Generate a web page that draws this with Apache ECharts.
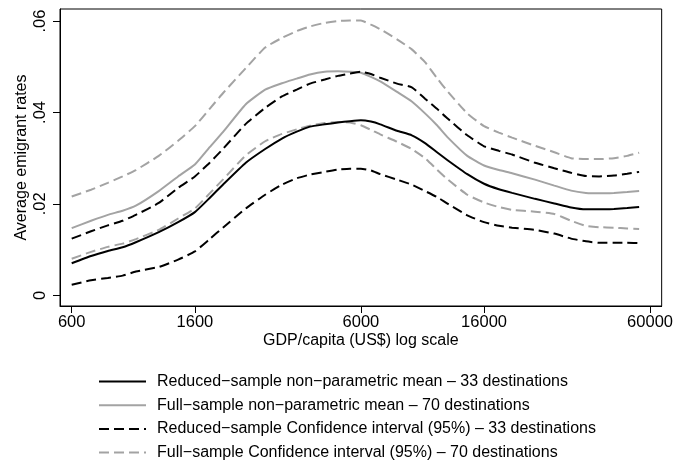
<!DOCTYPE html>
<html>
<head>
<meta charset="utf-8">
<script src="https://cdn.jsdelivr.net/npm/echarts@6/dist/echarts.min.js"></script>
<style>
  html, body { margin: 0; padding: 0; background: #fff; }
  #chart { width: 676px; height: 463px; }
</style>
</head>
<body>
<div id="chart"></div>
<script>
// GDP per capita (US$) at which each curve is evaluated
const gdp = [600, 700, 800, 900, 1000, 1200, 1400, 1600, 1800, 2000, 2400, 2800, 3200, 3600, 4000,
  4500, 5000, 5500, 6000, 6500, 7000, 8000, 9000, 10000, 11000, 12000, 14000, 16000, 18000, 20000,
  24000, 28000, 32000, 36000, 40000, 45000, 50000, 55000];

// Reduced sample (33 destinations): mean and 95% band
const reducedMean = [.0070, .0086, .0097, .0105, .0116, .0138, .0160, .0182, .0213, .0242, .0290, .0320, .0343, .0358, .0369,
  .0374, .0378, .0381, .0383, .0380, .0374, .0360, .0350, .0333, .0313, .0295, .0265, .0244, .0232, .0224,
  .0211, .0201, .0192, .0188, .0188, .0189, .0191, .0193];
const reducedUpper = [.0124, .0140, .0153, .0163, .0176, .0202, .0235, .0260, .0290, .0320, .0375, .0410, .0435, .0450, .0463,
  .0472, .0480, .0485, .0489, .0484, .0476, .0463, .0455, .0430, .0408, .0386, .0350, .0326, .0316, .0308,
  .0290, .0278, .0268, .0261, .0260, .0262, .0266, .0270];
const reducedLower = [.0023, .0033, .0038, .0043, .0052, .0062, .0078, .0096, .0123, .0148, .0190, .0220, .0242, .0256, .0264,
  .0270, .0275, .0277, .0277, .0273, .0265, .0253, .0242, .0228, .0215, .0200, .0175, .0160, .0152, .0148,
  .0143, .0135, .0124, .0118, .0115, .0115, .0115, .0114];

// Full sample (70 destinations): mean and 95% band
const fullMean = [.0147, .0163, .0176, .0185, .0196, .0228, .0260, .0286, .0324, .0357, .0418, .0450, .0464, .0474, .0483,
  .0489, .0490, .0489, .0487, .0478, .0468, .0445, .0424, .0398, .0372, .0345, .0305, .0284, .0274, .0267,
  .0253, .0240, .0229, .0224, .0223, .0224, .0226, .0228];
const fullUpper = [.0216, .0231, .0246, .0260, .0274, .0305, .0338, .0370, .0408, .0442, .0497, .0542, .0563, .0578, .0588,
  .0596, .0600, .0601, .0601, .0592, .0582, .0560, .0538, .0510, .0475, .0445, .0398, .0370, .0356, .0345,
  .0327, .0313, .0300, .0298, .0298, .0300, .0305, .0312];
const fullLower = [.0080, .0095, .0106, .0113, .0123, .0143, .0168, .0190, .0223, .0253, .0306, .0337, .0353, .0363, .0371,
  .0377, .0379, .0378, .0372, .0362, .0352, .0336, .0320, .0300, .0275, .0253, .0220, .0203, .0193, .0187,
  .0183, .0178, .0163, .0152, .0149, .0148, .0146, .0145];

// Axis ticks
const xTicks = [600, 1600, 6000, 16000, 60000];
const yTicks = [0, 0.02, 0.04, 0.06];

const names = [
  'Reduced\u2212sample non\u2212parametric mean \u2013 33 destinations',
  'Full\u2212sample non\u2212parametric mean \u2013 70 destinations',
  'Reduced\u2212sample Confidence interval (95%) \u2013 33 destinations',
  'Full\u2212sample Confidence interval (95%) \u2013 70 destinations'
];

const FONT = 'Liberation Sans, Arial, Helvetica, sans-serif';
const FS_TICK = 16.5;
const FS_TEXT = 16;
const BLACK = '#000000';
const GREY = '#a3a3a3';

// The horizontal axis is GDP on a log10 scale
const toPoints = vals => gdp.map((g, i) => [Math.log10(g), vals[i]]);

function lineSeries(name, vals, color, dashed) {
  return {
    name: name,
    type: 'line',
    data: toPoints(vals),
    symbol: 'none',
    silent: true,
    smooth: 0.15,
    lineStyle: { color: color, width: 2, type: dashed ? [10, 5] : 'solid' },
    itemStyle: { color: color }
  };
}

const chart = echarts.init(document.getElementById('chart'), null, { renderer: 'canvas' });

chart.setOption({
  animation: false,
  backgroundColor: '#ffffff',
  textStyle: { fontFamily: FONT },
  grid: {
    left: 60, right: 14, top: 9, bottom: 157,
    show: true, borderColor: '#000', borderWidth: 1, backgroundColor: '#fff'
  },
  legend: {
    orient: 'vertical',
    left: 98, top: 373.5, height: 100,
    padding: 0,
    itemWidth: 47, itemHeight: 14, itemGap: 7.7,
    itemStyle: { opacity: 0 },
    data: names,
    textStyle: { fontFamily: FONT, fontSize: FS_TEXT, color: '#000', padding: [0, 0, 0, 6] }
  },
  xAxis: {
    type: 'value',
    min: 2.7377, max: 4.8183,
    name: 'GDP/capita (US$) log scale',
    nameLocation: 'middle',
    nameGap: 27,
    nameMoveOverlap: false,
    nameTextStyle: { fontFamily: FONT, fontSize: FS_TEXT, color: '#000', verticalAlign: 'top' },
    axisLine: { show: true, onZero: false, lineStyle: { color: '#000', width: 1 } },
    axisTick: { show: true, length: 7, lineStyle: { color: '#000' }, customValues: xTicks.map(Math.log10) },
    axisLabel: {
      customValues: xTicks.map(Math.log10),
      formatter: v => String(Math.round(Math.pow(10, v))),
      fontFamily: FONT, fontSize: FS_TICK, color: '#000', margin: 8
    },
    splitLine: { show: false }
  },
  yAxis: {
    type: 'value',
    min: -0.00234, max: 0.06263,
    name: 'Average emigrant rates',
    nameLocation: 'middle',
    nameGap: 30,
    nameMoveOverlap: false,
    nameTextStyle: { fontFamily: FONT, fontSize: FS_TEXT, color: '#000' },
    axisLine: { show: true, onZero: false, lineStyle: { color: '#000', width: 1 } },
    axisTick: { show: true, length: 7, lineStyle: { color: '#000' }, customValues: yTicks },
    axisLabel: {
      customValues: yTicks,
      rotate: 90,
      formatter: v => (v === 0 ? '0' : v.toFixed(2).replace(/^0/, '')),
      fontFamily: FONT, fontSize: FS_TICK, color: '#000', margin: 11
    },
    splitLine: { show: false }
  },
  series: [
    lineSeries(names[3], fullUpper, GREY, true),
    lineSeries(names[3], fullLower, GREY, true),
    lineSeries(names[1], fullMean, GREY, false),
    lineSeries(names[2], reducedUpper, BLACK, true),
    lineSeries(names[2], reducedLower, BLACK, true),
    lineSeries(names[0], reducedMean, BLACK, false)
  ]
});
</script>
</body>
</html>
